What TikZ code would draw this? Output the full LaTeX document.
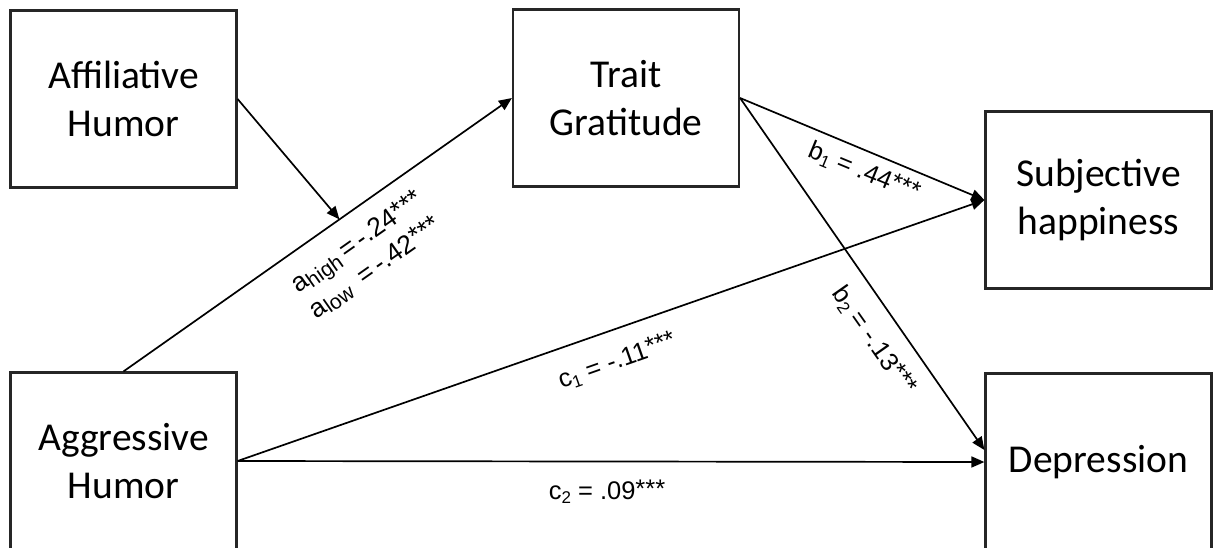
\documentclass[tikz,border=0pt]{standalone}
\usepackage{fontspec}
\setmainfont{Carlito}
\newfontfamily\arial{Liberation Sans}
\usetikzlibrary{arrows.meta,calc}
\newcommand\lsub[1]{\raisebox{-4pt}{\fontsize{17}{17}\selectfont #1}}
\newcommand\asubtxt[1]{\raisebox{-4pt}{\fontsize{21}{21}\selectfont #1}}
\newcommand\asub[1]{\rlap{\asubtxt{#1}}\hphantom{\asubtxt{high}}}
\newcommand\stars{\raisebox{2pt}{***}}
\begin{document}
\begin{tikzpicture}[x=1pt,y=-1pt,
  box/.style={draw=black!85, line width=2.2pt, minimum width=226pt, minimum height=177pt,
    inner sep=0pt, align=center, font=\fontsize{39.5}{48}\selectfont},
  conn/.style={line width=1.7pt, -{Triangle[length=13pt,width=11pt]}},
  lab/.style={font=\arial\fontsize{25.5}{31}\selectfont, inner sep=0pt},
  alab/.style={font=\arial\fontsize{26.5}{31.5}\selectfont, inner sep=0pt, align=left}]
\useasboundingbox (0,0) rectangle (1213,547);
\node[box] (af) at (123.5,99) {Affiliative\\Humor};
\node[box] (tg) at (626,98) {Trait\\Gratitude};
\node[box] (sh) at (1098.5,200) {Subjective\\happiness};
\node[box] (ag) at (123.5,461) {Aggressive\\Humor};
\node[box] (dep) at (1098.5,462) {Depression};
\draw[conn] (af.east) -- ($(ag.north)!0.556!(tg.west)$);
\draw[conn] (ag.north) -- (tg.west);
\draw[conn] (tg.east) -- (sh.west);
\draw[conn] (ag.east) -- (sh.west);
\draw[conn] (tg.east) -- ([yshift=12pt]dep.west);
\draw[conn] (ag.east) -- (dep.west);
\node[alab, rotate=35.1] (la) at (366,255) {a\asub{high}\,=\,-.24\stars\\a\asub{low}\,=\,-.42\stars};
\node[lab, rotate=-22.4] (lb1) at (864,172) {b\lsub{1} = .44\stars};
\node[lab, rotate=-54.9] (lb2) at (874,341) {b\lsub{2} = -.13\stars};
\node[lab, rotate=19.35] (lc1) at (617,361) {c\lsub{1} = -.11\stars};
\node[lab] (lc2) at (607,492) {c\lsub{2} = .09\stars};
\end{tikzpicture}
\end{document}
